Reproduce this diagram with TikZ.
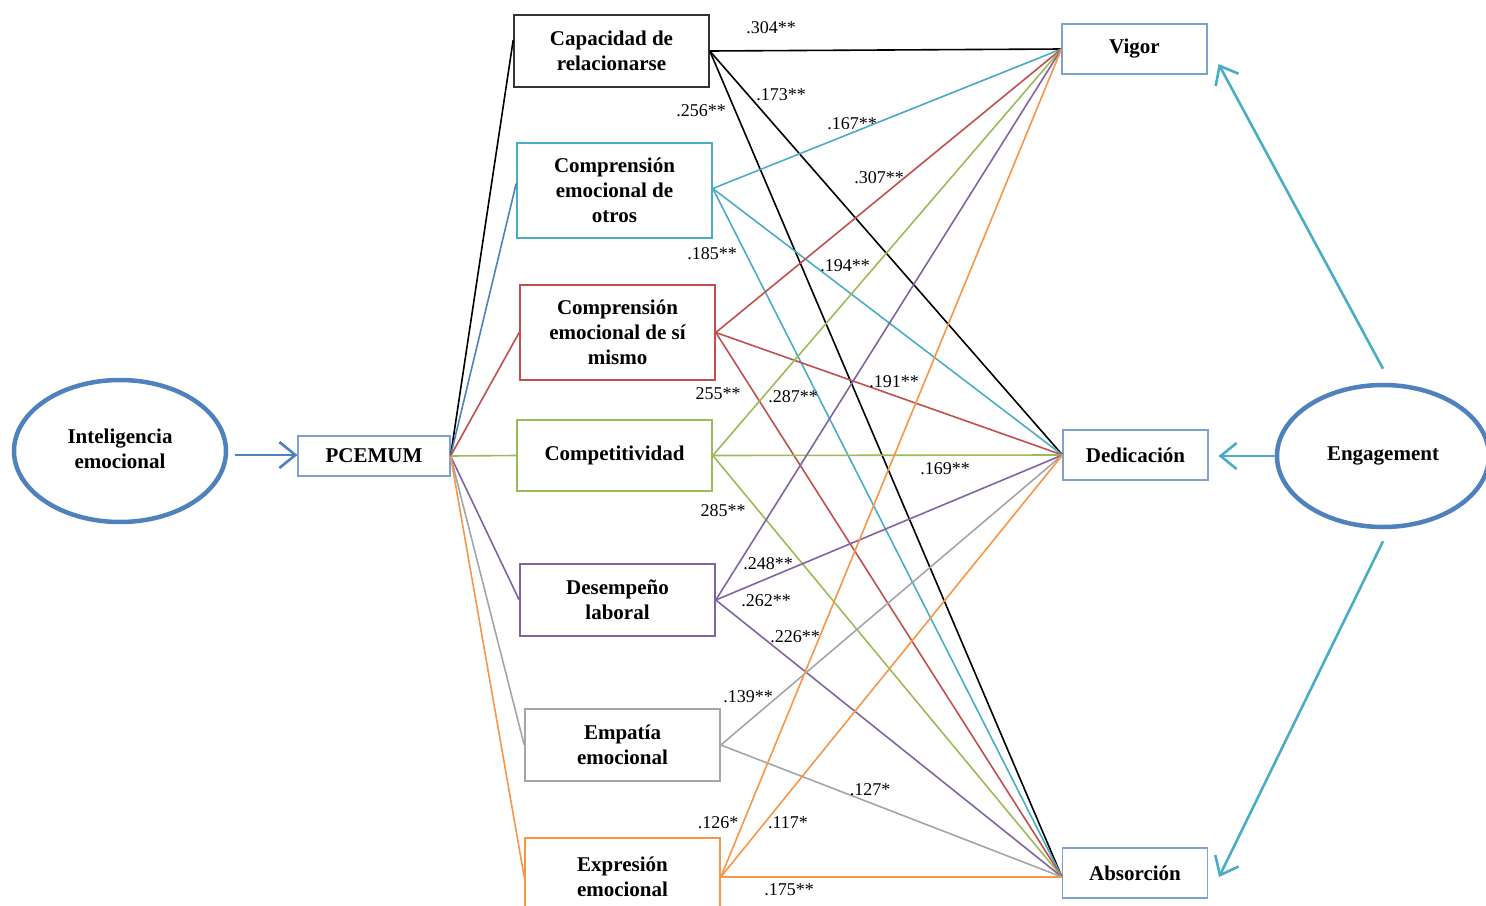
\documentclass[tikz,border=0pt]{standalone}
\usepackage{fontspec}
\setmainfont{Liberation Serif}
\usetikzlibrary{shapes.geometric,arrows.meta,calc}
\definecolor{cblack}{HTML}{000000}
\definecolor{ccyan}{HTML}{4BACC6}
\definecolor{cblue}{HTML}{4F81BD}
\definecolor{cred}{HTML}{C0504D}
\definecolor{cgreen}{HTML}{9BBB59}
\definecolor{cpurple}{HTML}{8064A2}
\definecolor{cgray}{HTML}{A5A5A5}
\definecolor{corange}{HTML}{F79646}
\definecolor{cframe}{HTML}{7FA1CF}
\tikzset{
  txt/.style={font=\fontsize{21}{25}\selectfont\bfseries, align=center},
  lbox/.style={txt, draw, line width=1.6pt, minimum width=195pt, inner sep=0pt},
  rbox/.style={txt, draw=cframe, line width=1.1pt, minimum width=145pt, minimum height=50pt, inner sep=0pt},
  latent/.style={txt, ellipse, draw=cblue, line width=4.5pt, minimum width=212pt, minimum height=142pt},
  lab/.style={font=\fontsize{18}{20}\selectfont, inner sep=0pt},
  conn/.style={line width=1.6pt},
  eng/.style={draw=ccyan, line width=2.6pt, -{Straight Barb[length=16pt,width=26pt,line width=2.6pt]}},
}
\begin{document}
\begin{tikzpicture}[x=1pt,y=-1pt]
\useasboundingbox (0,0) rectangle (1486,905);

% left side
\node[latent] (ie) at (120,451) {\raisebox{4pt}{\begin{tabular}{@{}c@{}}Inteligencia\\emocional\end{tabular}}};
\node[txt, draw=cframe, line width=1.1pt, minimum width=152pt, minimum height=40pt, inner sep=0pt] (pc) at (374,456) {PCEMUM};
\coordinate (iestart) at (235,455);
\draw[draw=cblue, line width=2.6pt, -{Straight Barb[length=16pt,width=26pt,line width=2.6pt]}] (iestart) -- (iestart -| pc.west);

% middle boxes
\node[lbox, draw=black!80, minimum height=72pt] (cap) at (611.5,51) {Capacidad de\\relacionarse};
\node[lbox, draw=ccyan, minimum height=95pt] (cot) at (614.5,190.5) {Comprensión\\emocional de\\otros};
\node[lbox, draw=cred, minimum height=95pt] (csm) at (617.5,332.5) {Comprensión\\emocional de sí\\mismo};
\node[lbox, draw=cgreen, minimum height=71pt] (comp) at (614.5,455.5) {Competitividad};
\node[lbox, draw=cpurple, minimum height=72pt] (des) at (617.5,600) {Desempeño\\laboral};
\node[lbox, draw=cgray, minimum height=72pt] (emp) at (622.5,745) {Empatía\\emocional};
\node[lbox, draw=corange, minimum height=78pt] (exp) at (622.5,877) {Expresión\\emocional};

% right boxes
\node[rbox] (vig) at (1134.5,49) {Vigor};
\node[rbox] (ded) at (1135.5,455) {Dedicación};
\node[rbox] (abs) at (1135,873) {Absorción};
\node[latent] (eng) at (1383,456) {\raisebox{-3pt}{Engagement}};

% PCEMUM to dimensions
\coordinate (capin) at ($(cap.west)+(0,-11)$);
\draw[conn, black] (pc.east) -- (capin);
\draw[conn, cblue] (pc.east) -- ($(cot.west)+(0,-7)$);
\draw[conn, cred] (pc.east) -- (csm.west);
\draw[conn, cgreen] (pc.east) -- (comp.west);
\draw[conn, cpurple] (pc.east) -- (des.west);
\draw[conn, cgray] (pc.east) -- (emp.west);
\draw[conn, corange] (pc.east) -- (exp.west);

% dimensions to engagement facets
\coordinate (vin) at (vig.west);
\coordinate (din) at (ded.west);
\coordinate (ain) at ($(abs.west)+(0,4)$);

\draw[conn, black] (cap.east) -- (vin);
\draw[conn, black] (cap.east) -- (din);
\draw[conn, black] (cap.east) -- (ain);

\draw[conn, ccyan] ($(cot.east)+(0,-2)$) -- (vin);
\draw[conn, ccyan] ($(cot.east)+(0,-2)$) -- (din);
\draw[conn, ccyan] ($(cot.east)+(0,-2)$) -- (ain);

\draw[conn, cred] (csm.east) -- (vin);
\draw[conn, cred] (csm.east) -- (din);
\draw[conn, cred] (csm.east) -- (ain);

\draw[conn, cgreen] (comp.east) -- (vin);
\draw[conn, cgreen] (comp.east) -- (din);
\draw[conn, cgreen] (comp.east) -- (ain);

\draw[conn, cpurple] (des.east) -- (vin);
\draw[conn, cpurple] (des.east) -- (din);
\draw[conn, cpurple] (des.east) -- (ain);

\draw[conn, cgray] (emp.east) -- (din);
\draw[conn, cgray] (emp.east) -- (ain);

\draw[conn, corange] (exp.east) -- (vin);
\draw[conn, corange] (exp.east) -- (din);
\draw[conn, corange] (exp.east) -- (ain);

% engagement arrows
\draw[eng] ($(eng.north)+(0,-14)$) -- ($(vig.east)+(11,15)$);
\draw[eng] (eng.west) -- (eng.west -| {$(ded.east)+(10,0)$});
\draw[eng] ($(eng.south)+(0,12)$) -- ($(abs.east)+(11,4)$);

% labels
\node[lab] (l1) at (771,28) {.304**};
\node[lab] (l2) at (781,95) {.173**};
\node[lab] (l3) at (701,111) {.256**};
\node[lab] (l4) at (852,124) {.167**};
\node[lab] (l5) at (879,178) {.307**};
\node[lab] (l6) at (712,254) {.185**};
\node[lab] (l7) at (845,266) {.194**};
\node[lab] (l8) at (718,394) {255**};
\node[lab] (l9) at (793,397) {.287**};
\node[lab] (l10) at (894,382) {.191**};
\node[lab] (l11) at (945,469) {.169**};
\node[lab] (l12) at (723,511) {285**};
\node[lab] (l13) at (768,564) {.248**};
\node[lab] (l14) at (766,601) {.262**};
\node[lab] (l15) at (795,637) {.226**};
\node[lab] (l16) at (748,697) {.139**};
\node[lab] (l17) at (870,790) {.127*};
\node[lab] (l18) at (718,823) {.126*};
\node[lab] (l19) at (788,823) {.117*};
\node[lab] (l20) at (789,890) {.175**};
\end{tikzpicture}
\end{document}
